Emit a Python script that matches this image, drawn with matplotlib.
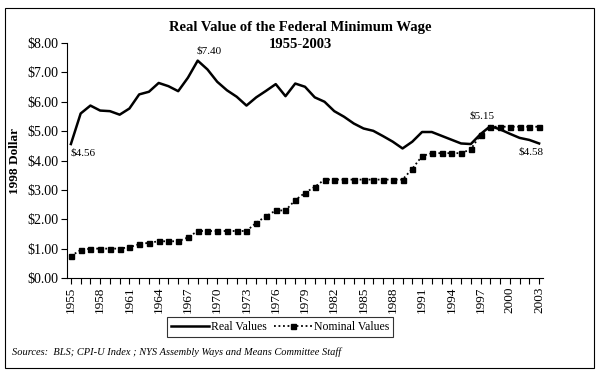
import numpy as np
import matplotlib.pyplot as plt
from matplotlib.patches import Rectangle
from matplotlib.ticker import MultipleLocator, FixedLocator, FuncFormatter

plt.rcParams['font.family'] = ['Liberation Serif', 'DejaVu Serif']

years = list(range(1955, 2004))
real_values = [4.56, 5.60, 5.87, 5.70, 5.68, 5.56, 5.77, 6.25, 6.34, 6.64,
               6.53, 6.36, 6.82, 7.40, 7.10, 6.68, 6.39, 6.17, 5.87, 6.15,
               6.37, 6.60, 6.19, 6.62, 6.51, 6.15, 6.00, 5.68, 5.49, 5.26,
               5.09, 5.01, 4.83, 4.64, 4.41, 4.64, 4.97, 4.97, 4.84, 4.71,
               4.58, 4.56, 4.90, 5.17, 5.06, 4.91, 4.77, 4.70, 4.58]
nominal_values = [0.75, 0.95, 1.00, 1.00, 1.00, 1.00, 1.05, 1.15, 1.20, 1.25,
                  1.25, 1.25, 1.38, 1.60, 1.60, 1.60, 1.60, 1.60, 1.60, 1.88,
                  2.10, 2.30, 2.30, 2.65, 2.90, 3.10, 3.35, 3.35, 3.35, 3.35,
                  3.35, 3.35, 3.35, 3.35, 3.35, 3.72, 4.15, 4.25, 4.25, 4.25,
                  4.25, 4.38, 4.88, 5.15, 5.15, 5.15, 5.15, 5.15, 5.15]
tick_years = years[::3]

# labelled points: (year, value, text)
callouts = [(1955, 4.56, "$4.56"), (1968, 7.40, "$7.40"),
            (1998, 5.17, "$5.15"), (2003, 4.58, "$4.58")]

fig = plt.figure(figsize=(6, 3.73), dpi=100)
ax = fig.add_axes([67/600, 1 - 278/373, 476/600, 235/373])

ax.plot(years, real_values, color="black", lw=1.8, label="Real Values")
ax.plot(years, nominal_values, color="black", lw=1.3, ls=(0, (1, 1.5)),
        marker="s", markersize=3.6, label="Nominal Values")

ax.set_xlim(1954.6, 2003.4)
ax.set_ylim(0, 8)
ax.yaxis.set_major_locator(MultipleLocator(1))
ax.yaxis.set_major_formatter(FuncFormatter(lambda v, p: f"${v:.2f}"))
ax.xaxis.set_major_locator(FixedLocator(tick_years))
ax.xaxis.set_minor_locator(FixedLocator(years))
ax.xaxis.set_major_formatter(FuncFormatter(lambda v, p: f"{int(v)}"))
ax.tick_params(axis="x", which="both", direction="out", length=4, width=0.8,
               labelrotation=90, labelsize=9.5, pad=2)
ax.tick_params(axis="y", direction="out", length=4, width=0.8, labelsize=10, pad=2)
for s in ["top", "right"]:
    ax.spines[s].set_visible(False)
ax.spines["left"].set_linewidth(0.8)
ax.spines["bottom"].set_linewidth(0.8)

ax.set_ylabel("1998 Dollar", fontsize=9.5, fontweight="bold", labelpad=5)

# callout labels
ax.annotate(callouts[0][2], (callouts[0][0], callouts[0][1]), xytext=(0, -3),
            textcoords="offset points", ha="left", va="top", fontsize=8)
ax.annotate(callouts[1][2], (callouts[1][0], callouts[1][1]), xytext=(-1, 4),
            textcoords="offset points", ha="left", va="bottom", fontsize=8)
ax.annotate(callouts[2][2], (callouts[2][0], callouts[2][1]), xytext=(-6, 4),
            textcoords="offset points", ha="center", va="bottom", fontsize=8)
ax.annotate(callouts[3][2], (callouts[3][0], callouts[3][1]), xytext=(3, -3),
            textcoords="offset points", ha="right", va="top", fontsize=8)

fig.text(0.5, 1 - 27/373, "Real Value of the Federal Minimum Wage",
         ha="center", va="center", fontsize=10.5, fontweight="bold")
fig.text(0.5, 1 - 45/373, "1955-2003", ha="center", va="center",
         fontsize=10.5, fontweight="bold")

leg = fig.legend(loc="center", bbox_to_anchor=(280/600, 1 - 327/373), ncol=2,
                 frameon=True, fancybox=False, fontsize=8.5, handlelength=3.2,
                 columnspacing=0.6, handletextpad=0.2, borderpad=0.35,
                 borderaxespad=0)
leg.get_frame().set_edgecolor("black")
leg.get_frame().set_linewidth(0.8)

fig.text(12/600, 1 - 352/373,
         "Sources:  BLS; CPI-U Index ; NYS Assembly Ways and Means Committee Staff",
         ha="left", va="center", fontsize=7.5, style="italic")

fig.patches.append(Rectangle((5/600, 1 - 368/373), 589/600, 360/373,
                             transform=fig.transFigure, fill=False,
                             edgecolor="black", lw=0.8))

fig.savefig("out.png", dpi=100)
